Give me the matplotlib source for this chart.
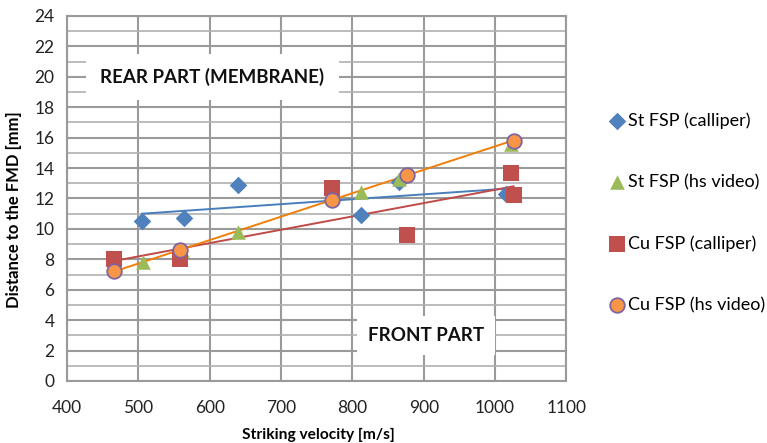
import numpy as np
import matplotlib
matplotlib.use("Agg")
import matplotlib.pyplot as plt

plt.rcParams['font.family'] = ['Lato', 'DejaVu Sans']

st_cal_v = [505, 564, 639, 812, 866, 1015]
st_cal_d = [10.5, 10.7, 12.9, 10.9, 13.1, 12.3]
st_hs_v = [506, 561, 639, 812, 866, 1022]
st_hs_d = [7.8, 8.6, 9.8, 12.4, 13.3, 15.6]
cu_cal_v = [466, 558, 771, 876, 1022, 1026]
cu_cal_d = [8.0, 8.0, 12.7, 9.6, 13.7, 12.2]
cu_hs_v = [466, 558, 771, 876, 1026]
cu_hs_d = [7.2, 8.6, 11.9, 13.55, 15.8]

labels = ['St FSP (calliper)', 'St FSP (hs video)', 'Cu FSP (calliper)', 'Cu FSP (hs video)']

fig = plt.figure(figsize=(7.67, 4.43), dpi=100)
ax = fig.add_axes([0.0874, 0.14, 0.651, 0.824])

ax.set_xlim(400, 1100)
ax.set_ylim(0, 24)
ax.set_xticks(np.arange(400, 1101, 100))
ax.set_yticks(np.arange(0, 25, 2))
ax.set_yticks(np.arange(1, 24, 2), minor=True)
ax.grid(True, which='major', color='#9a9a9a', lw=1.5, zorder=0)
ax.grid(True, which='minor', axis='y', color='#b0b0b0', lw=1.2, zorder=0)
ax.tick_params(which='both', length=0, labelsize=12.5, colors='#222222')
ax.tick_params(axis='x', pad=14)
ax.tick_params(axis='y', pad=9)
for s in ax.spines.values():
    s.set_color('#9a9a9a')
    s.set_linewidth(1.5)
ax.set_axisbelow(True)

# trend lines (linear fits)
def trend(v, d, color):
    k, b = np.polyfit(v, d, 1)
    xs = np.array([min(v), max(v)])
    ax.plot(xs, k * xs + b, color=color, lw=1.4, zorder=3)

trend(st_cal_v, st_cal_d, '#4a7ebb')
trend(cu_cal_v, cu_cal_d, '#be4b48')
trend(cu_hs_v, cu_hs_d, '#f07f09')

h1 = ax.scatter(st_cal_v, st_cal_d, marker='D', s=80, color='#4f81bd', lw=0, zorder=4, label=labels[0])
h2 = ax.scatter(st_hs_v, st_hs_d, marker='^', s=110, color='#9bbb59', lw=0, zorder=4, label=labels[1])
h3 = ax.scatter(cu_cal_v, cu_cal_d, marker='s', s=120, color='#c0504d', lw=0, zorder=4, label=labels[2])
h4 = ax.scatter(cu_hs_v, cu_hs_d, marker='o', s=110, facecolor='#f79646', edgecolor='#8064a2', lw=1.3, zorder=5, label=labels[3])

ax.text(604, 20.0, 'REAR PART (MEMBRANE)', fontsize=13.5, fontweight='bold', ha='center', va='center',
        color='#111111', zorder=2,
        bbox=dict(boxstyle='square,pad=0.75', fc='white', ec='none'))
ax.text(903, 3.0, 'FRONT PART', fontsize=13.5, fontweight='bold', ha='center', va='center',
        color='#111111', zorder=2,
        bbox=dict(boxstyle='square,pad=0.6', fc='white', ec='none'))

ax.set_xlabel('Striking velocity [m/s]', fontsize=11.2, fontweight='bold')
ax.set_ylabel('Distance to the FMD [mm]', fontsize=12, fontweight='bold')
ax.xaxis.set_label_coords(0.503, -0.128)
ax.yaxis.set_label_coords(-0.09, 0.47)

fig.legend(handles=[h1, h2, h3, h4], labels=labels, loc='upper left', bbox_to_anchor=(0.78, 0.767),
           frameon=False, fontsize=13, labelspacing=2.5, handletextpad=0.05, handlelength=1.1,
           borderpad=0, scatterpoints=1)

fig.savefig('out.png', dpi=100, facecolor='white')
